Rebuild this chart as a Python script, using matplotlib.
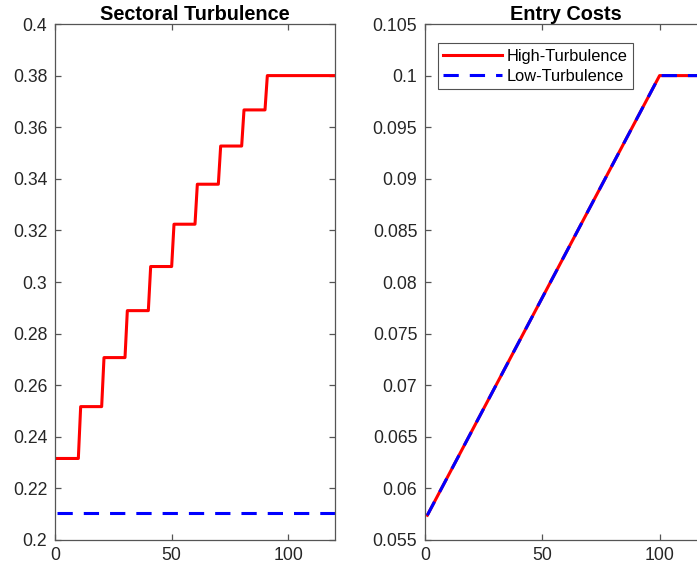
import matplotlib
matplotlib.use('Agg')
import matplotlib.pyplot as plt
from matplotlib.ticker import FormatStrFormatter
import numpy as np

plt.rcParams['font.family'] = ['Liberation Sans', 'DejaVu Sans']

# sectoral turbulence: one level per 10-period block
turb_levels = [0.2316, 0.2517, 0.2707, 0.2889, 0.3060, 0.3224, 0.3379, 0.3527, 0.3667, 0.3800]
turb_low = 0.2105
periods = np.arange(1, 121)

# entry costs: same path for both scenarios
cost_t = [1, 100, 120]
cost_high = [0.0574, 0.1, 0.1]
cost_low = [0.0574, 0.1, 0.1]

high_turb = [turb_levels[min((t - 1) // 10, 9)] for t in periods]
low_turb = [turb_low for t in periods]

axcol = '#262626'

fig = plt.figure(figsize=(6.97, 5.67), dpi=100)
ax1 = fig.add_axes([55 / 697, 27 / 567, 280 / 697, 516 / 567])
ax2 = fig.add_axes([425 / 697, 27 / 567, 281.5 / 697, 516 / 567])


def style(ax):
    for s in ax.spines.values():
        s.set_color('#555555')
        s.set_linewidth(0.9)
    ax.tick_params(direction='in', top=True, right=True, length=4,
                   width=0.9, color='#555555', labelsize=12.7, labelcolor=axcol)
    ax.tick_params(axis='y', pad=5.5)
    ax.tick_params(axis='x', pad=5)
    ax.set_xlim(0, 120)
    ax.set_xticks([0, 50, 100])
    ax.yaxis.set_major_formatter(FormatStrFormatter('%g'))


ax1.plot(periods, high_turb, color='red', lw=2.2, label='High-Turbulence')
ax1.plot(periods, low_turb, color='blue', lw=2.2, dashes=(5, 3.6), label='Low-Turbulence')
ax1.set_ylim(0.2, 0.4)
ax1.set_yticks(np.arange(0.2, 0.4001, 0.02))
ax1.set_title('Sectoral Turbulence', fontsize=14.3, fontweight='bold', pad=3, color='black')
style(ax1)

ax2.plot(cost_t, cost_high, color='red', lw=2.2, label='High-Turbulence')
ax2.plot(cost_t, cost_low, color='blue', lw=2.2, dashes=(5, 3.6), label='Low-Turbulence')
ax2.set_ylim(0.055, 0.105)
ax2.set_yticks(np.arange(0.055, 0.10501, 0.005))
ax2.set_title('Entry Costs', fontsize=14.3, fontweight='bold', pad=3, color='black')
style(ax2)
leg = ax2.legend(loc='upper left', bbox_to_anchor=(0.045, 0.963), fontsize=11.8,
                 frameon=True, fancybox=False, handlelength=3.6, handletextpad=0.25,
                 borderpad=0.35, labelspacing=0.3, borderaxespad=0)
leg.get_frame().set_edgecolor(axcol)
leg.get_frame().set_linewidth(0.8)

fig.savefig('out.png', dpi=100)
